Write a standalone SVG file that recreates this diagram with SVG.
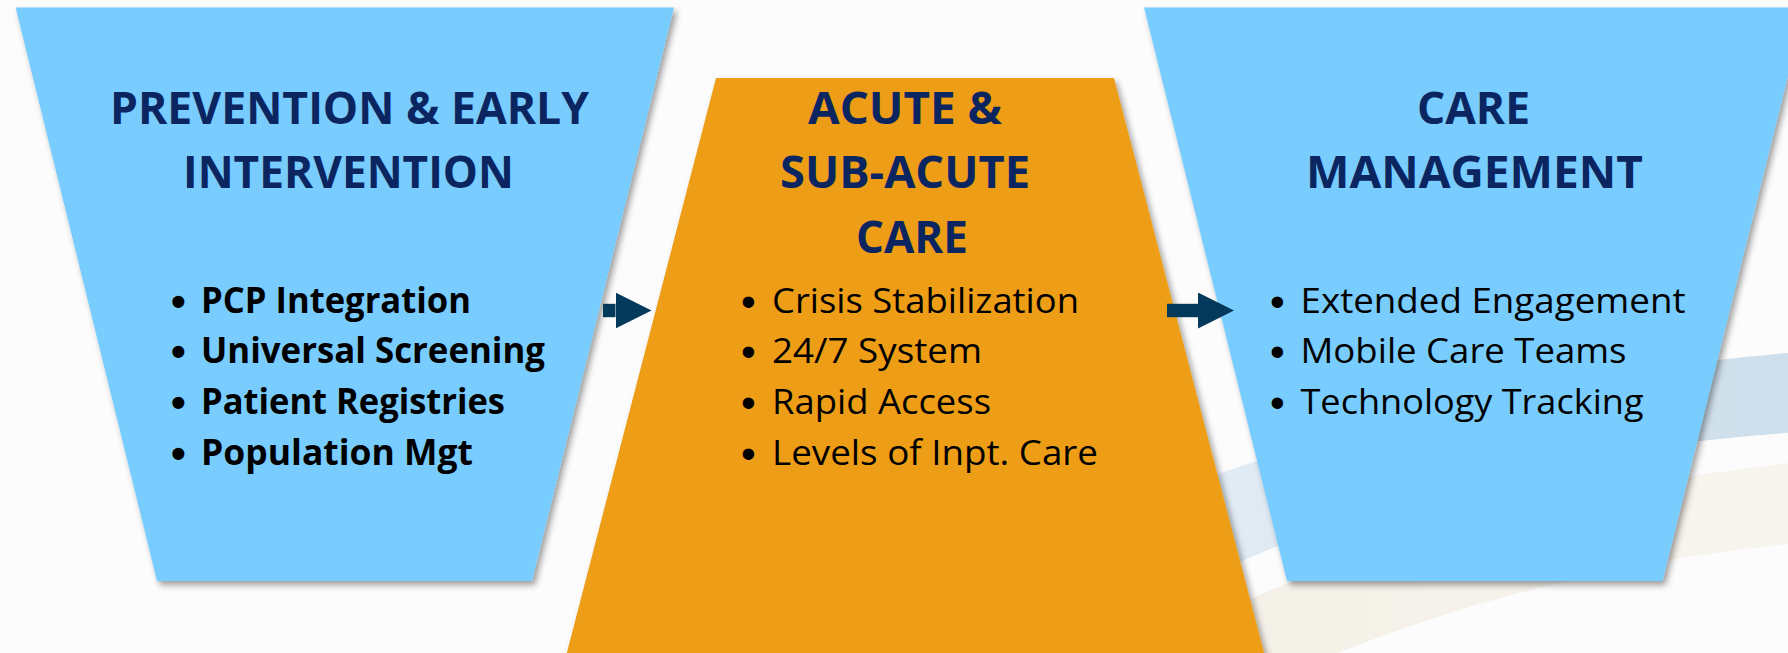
<svg xmlns="http://www.w3.org/2000/svg" width="1788" height="653" viewBox="0 0 1788 653">
  <defs>
    <style>
      .title { font-family: "Open Sans", "Liberation Sans", sans-serif; font-weight: 700; font-size: 45.5px; fill: #0b2561; }
      .item { font-family: "Open Sans", "Liberation Sans", sans-serif; font-size: 35px; fill: #000000; }
      .item.strong { font-weight: 700; }
      .dot { font-family: "Liberation Sans", Arial, sans-serif; font-size: 42px; fill: #000000; }
      .dot.strong { font-weight: 700; }
      .stage-blue { fill: #78ccfe; }
      .stage-orange { fill: #ed9d17; }
      .flow { stroke: #03395a; stroke-width: 13.4; fill: none; stroke-linecap: butt; }
    </style>
    <filter id="soft-shadow" x="-10%" y="-10%" width="125%" height="125%">
      <feDropShadow dx="3" dy="4" stdDeviation="3" flood-color="#000000" flood-opacity="0.38"/>
    </filter>
    <linearGradient id="band-blue" x1="1150" y1="0" x2="1788" y2="0" gradientUnits="userSpaceOnUse">
      <stop offset="0" stop-color="#e3edf5"/>
      <stop offset="1" stop-color="#cddfeb"/>
    </linearGradient>
    <linearGradient id="band-sand" x1="1200" y1="0" x2="1788" y2="0" gradientUnits="userSpaceOnUse">
      <stop offset="0" stop-color="#f4f0e7"/>
      <stop offset="1" stop-color="#f8f5ef"/>
    </linearGradient>
    <marker id="head" viewBox="0 0 36 36" refX="0" refY="18" markerWidth="36" markerHeight="36" markerUnits="userSpaceOnUse" orient="auto">
      <path d="M0,0 L36,18 L0,36 Z" fill="#03395a"/>
    </marker>
  </defs>

  <!-- page background with soft swooshes -->
  <rect x="0" y="0" width="1788" height="653" fill="#fcfcfc"/>
  <g id="background-bands">
    <path d="M1150,500 Q1450,380 1800,352 L1800,432 Q1450,455 1180,590 Z" fill="url(#band-blue)"/>
    <path d="M1200,622 Q1450,500 1800,462 L1800,543 Q1550,566 1320,660 L1200,660 Z" fill="url(#band-sand)"/>
  </g>

  <!-- stage 1 -->
  <g id="prevention">
    <polygon class="stage-blue" points="15.6,7.5 674,7.5 532,581 157,581" filter="url(#soft-shadow)"/>
    <text class="title" x="110" y="124" textLength="479" lengthAdjust="spacingAndGlyphs">PREVENTION &amp; EARLY</text>
    <text class="title" x="183" y="188" textLength="331" lengthAdjust="spacingAndGlyphs">INTERVENTION</text>
    <text class="dot strong" x="171" y="315.5">•</text>
    <text class="item strong" x="201" y="312.5" textLength="270" lengthAdjust="spacingAndGlyphs">PCP Integration</text>
    <text class="dot strong" x="171" y="366">•</text>
    <text class="item strong" x="201" y="363" textLength="344" lengthAdjust="spacingAndGlyphs">Universal Screening</text>
    <text class="dot strong" x="171" y="417">•</text>
    <text class="item strong" x="201" y="414" textLength="304" lengthAdjust="spacingAndGlyphs">Patient Registries</text>
    <text class="dot strong" x="171" y="468">•</text>
    <text class="item strong" x="201" y="465" textLength="272" lengthAdjust="spacingAndGlyphs">Population Mgt</text>
  </g>

  <!-- stage 2 -->
  <g id="acute-care">
    <polygon class="stage-orange" points="716,78 1114,78 1266,660 565,660" filter="url(#soft-shadow)"/>
    <text class="title" x="808" y="124" textLength="194" lengthAdjust="spacingAndGlyphs">ACUTE &amp;</text>
    <text class="title" x="780" y="188" textLength="250" lengthAdjust="spacingAndGlyphs">SUB-ACUTE</text>
    <text class="title" x="856" y="253" textLength="112" lengthAdjust="spacingAndGlyphs">CARE</text>
    <text class="dot" x="741" y="315.5">•</text>
    <text class="item" x="772" y="312.5" textLength="307" lengthAdjust="spacingAndGlyphs">Crisis Stabilization</text>
    <text class="dot" x="741" y="366">•</text>
    <text class="item" x="772" y="363" textLength="210" lengthAdjust="spacingAndGlyphs">24/7 System</text>
    <text class="dot" x="741" y="417">•</text>
    <text class="item" x="772" y="414" textLength="219" lengthAdjust="spacingAndGlyphs">Rapid Access</text>
    <text class="dot" x="741" y="468">•</text>
    <text class="item" x="772" y="465" textLength="326" lengthAdjust="spacingAndGlyphs">Levels of Inpt. Care</text>
  </g>

  <!-- stage 3 -->
  <g id="care-management">
    <polygon class="stage-blue" points="1144,7.5 1805,7.5 1662.5,581 1287,581" filter="url(#soft-shadow)"/>
    <text class="title" x="1417" y="124" textLength="113" lengthAdjust="spacingAndGlyphs">CARE</text>
    <text class="title" x="1306" y="188" textLength="337" lengthAdjust="spacingAndGlyphs">MANAGEMENT</text>
    <text class="dot" x="1270" y="315.5">•</text>
    <text class="item" x="1300.5" y="312.5" textLength="385" lengthAdjust="spacingAndGlyphs">Extended Engagement</text>
    <text class="dot" x="1270" y="366">•</text>
    <text class="item" x="1300.5" y="363" textLength="326" lengthAdjust="spacingAndGlyphs">Mobile Care Teams</text>
    <text class="dot" x="1270" y="417">•</text>
    <text class="item" x="1300.5" y="414" textLength="343" lengthAdjust="spacingAndGlyphs">Technology Tracking</text>
  </g>

  <!-- flow arrows between stages -->
  <g id="connectors">
    <line class="flow" x1="603" y1="310.5" x2="615.5" y2="310.5" marker-end="url(#head)"/>
    <line class="flow" x1="1167" y1="310.5" x2="1198" y2="310.5" marker-end="url(#head)"/>
  </g>
</svg>
